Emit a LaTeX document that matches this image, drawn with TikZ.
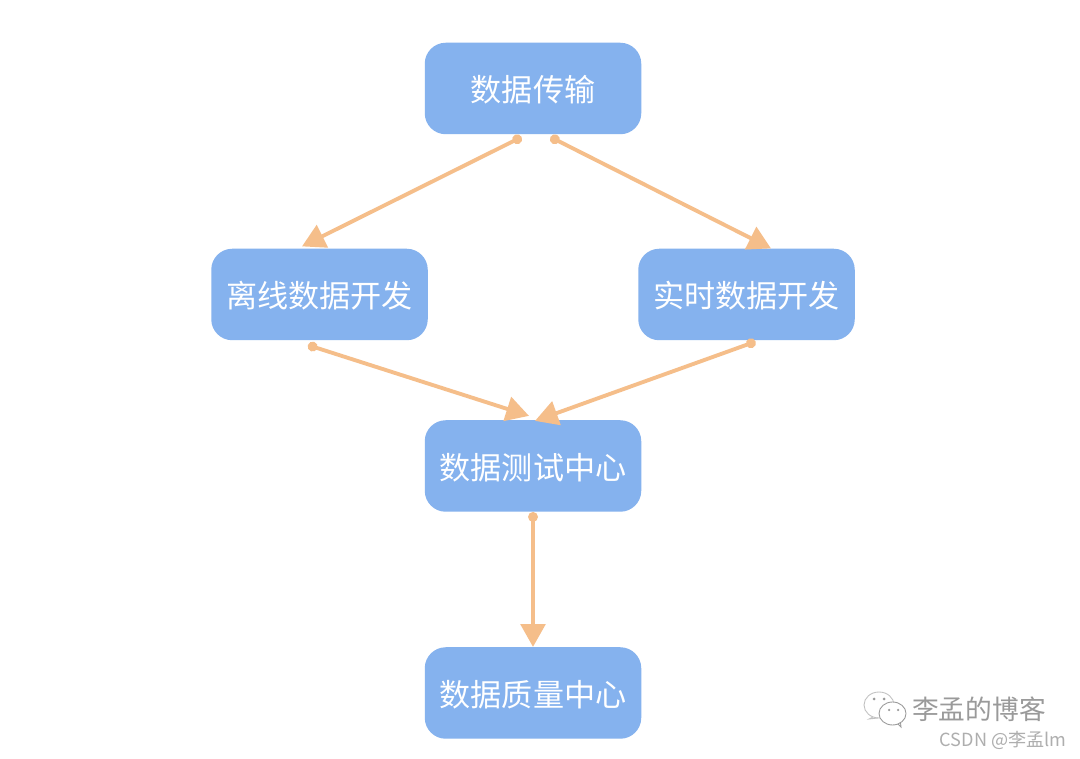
\documentclass[tikz,border=0pt]{standalone}
\usepackage{fontspec}
\setmainfont{Noto Sans CJK SC}
\usetikzlibrary{arrows.meta}

\definecolor{boxblue}{HTML}{85B2EE}
\definecolor{floworange}{HTML}{F5BE8A}
\definecolor{markgray}{HTML}{9A9A9A}

\tikzset{
    stepbox/.style={draw=none, fill=boxblue, rounded corners=0.42cm, minimum width=4.33cm, minimum height=1.83cm, text=white, text depth=0pt, font=\fontsize{17.7}{20}\selectfont},
    flow/.style={draw=floworange, line width=2.2pt, {Circle[length=5.5pt]}-{Triangle[length=13pt,width=14pt]}}
}

\begin{document}
\begin{tikzpicture}
\useasboundingbox (0,0) rectangle (21.6,15.16);
\fill[white] (0,0) rectangle (21.6,15.16);

%boites
\node[stepbox] (transfer) at (10.66,13.39) {数据传输};
\node[stepbox] (offline) at (6.39,9.27) {离线数据开发};
\node[stepbox] (realtime) at (14.93,9.27) {实时数据开发};
\node[stepbox] (testing) at (10.66,5.84) {数据测试中心};
\node[stepbox] (quality) at (10.66,1.3) {数据质量中心};

%fleches
\draw[flow] ([shift={(-0.23,-0.05)}]transfer.south) -- ([shift={(-0.35,0.04)}]offline.north);
\draw[flow] ([shift={(0.35,-0.05)}]transfer.south) -- ([shift={(0.49,0)}]realtime.north);
\draw[flow] ([shift={(-0.23,-0.09)}]offline.south) -- ([shift={(-0.08,0.08)}]testing.north);
\draw[flow] ([shift={(0.18,-0.02)}]realtime.south) -- ([shift={(0.04,-0.02)}]testing.north);
\draw[flow] (testing.south) -- (quality.north);

%filigrane
\node[text=markgray, font=\fontsize{15.2}{18}\selectfont, anchor=west] (blogname) at (18.12,0.97) {李孟的博客};
\node[text=markgray!80, font=\fontsize{10.3}{12}\selectfont, anchor=west] (csdnname) at (18.67,0.35) {CSDN @李孟lm};
\draw[markgray!60, fill=white, line width=0.5pt] (17.58,1.06) ellipse (0.3cm and 0.26cm);
\draw[markgray!60, line width=0.5pt] (17.46,0.82) -- (17.38,0.78) -- (17.56,0.8);
\draw[markgray, fill=white, line width=0.5pt] (17.85,0.89) ellipse (0.27cm and 0.23cm);
\draw[markgray, line width=0.5pt] (17.96,0.68) -- (18.02,0.62) -- (18.01,0.7);
\fill[markgray] (17.48,1.18) circle (0.03cm) (17.68,1.18) circle (0.03cm) (17.78,0.96) circle (0.025cm) (17.96,0.96) circle (0.025cm);

\end{tikzpicture}
\end{document}
